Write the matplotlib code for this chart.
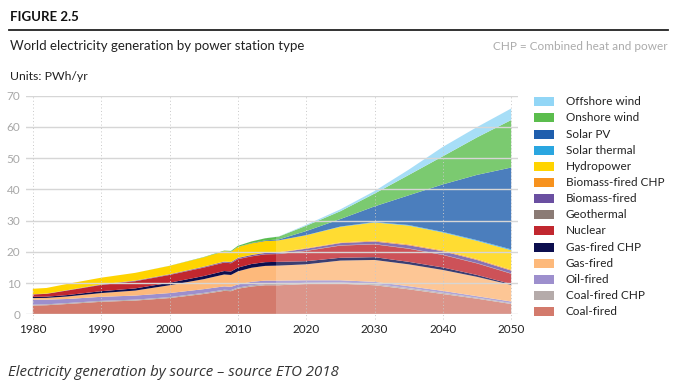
import matplotlib
matplotlib.use("Agg")
import matplotlib.pyplot as plt
from matplotlib.patches import Rectangle

# ---------------- data (PWh/yr) ----------------
years = [1980, 1982, 1985, 1990, 1995, 2000, 2005, 2008, 2009, 2010, 2012, 2014, 2016,
         2020, 2025, 2030, 2035, 2040, 2045, 2050]

coal_fired = [2.8, 2.9, 3.3, 4.0, 4.4, 5.2, 6.5, 7.5, 7.4, 8.2, 8.9, 9.3, 9.3,
              9.7, 9.8, 9.3, 8.0, 6.5, 5.0, 3.3]
coal_fired_chp = [0.3, 0.3, 0.3, 0.3, 0.3, 0.3, 0.35, 0.35, 0.35, 0.35, 0.4, 0.4, 0.4,
                  0.4, 0.4, 0.4, 0.4, 0.4, 0.3, 0.3]
oil_fired = [1.6, 1.5, 1.3, 1.3, 1.3, 1.3, 1.2, 1.1, 1.05, 1.0, 1.1, 1.1, 1.1,
             0.8, 0.7, 0.7, 0.6, 0.6, 0.5, 0.5]
gas_fired = [0.5, 0.55, 0.8, 1.2, 1.6, 2.5, 3.2, 3.8, 3.8, 4.2, 4.5, 4.7, 4.8,
             5.1, 6.3, 7.0, 7.0, 6.7, 6.2, 5.3]
gas_fired_chp = [0.4, 0.4, 0.45, 0.6, 0.7, 0.8, 1.0, 1.1, 1.1, 1.2, 1.2, 1.2, 1.2,
                 1.0, 0.9, 0.9, 0.8, 0.8, 0.6, 0.3]
nuclear = [0.75, 0.9, 1.45, 2.0, 2.3, 2.5, 2.7, 2.7, 2.65, 2.7, 2.45, 2.5, 2.5,
           3.3, 3.9, 4.1, 4.2, 4.0, 3.7, 3.3]
geothermal = [0.01, 0.01, 0.02, 0.03, 0.04, 0.05, 0.06, 0.06, 0.07, 0.07, 0.07, 0.08, 0.08,
              0.1, 0.1, 0.1, 0.1, 0.1, 0.1, 0.1]
biomass_fired = [0.05, 0.05, 0.07, 0.1, 0.13, 0.15, 0.2, 0.25, 0.27, 0.3, 0.35, 0.38, 0.4,
                 0.6, 0.7, 0.8, 1.0, 1.1, 1.0, 0.9]
biomass_fired_chp = [0.02, 0.02, 0.03, 0.04, 0.05, 0.06, 0.07, 0.08, 0.08, 0.09, 0.1, 0.1, 0.1,
                     0.2, 0.2, 0.3, 0.3, 0.3, 0.3, 0.3]
hydropower = [1.75, 1.8, 2.0, 2.15, 2.45, 2.65, 2.95, 3.25, 3.25, 3.45, 3.65, 3.7, 3.8,
              4.1, 5.0, 5.8, 6.0, 5.7, 5.8, 6.2]
solar_thermal = [0, 0, 0, 0, 0, 0, 0, 0, 0, 0.002, 0.005, 0.008, 0.01,
                 0.05, 0.1, 0.15, 0.2, 0.2, 0.25, 0.3]
solar_pv = [0, 0, 0, 0, 0, 0, 0.003, 0.01, 0.02, 0.03, 0.1, 0.19, 0.3,
            1.3, 2.4, 5.0, 9.5, 15.2, 20.9, 26.2]
onshore_wind = [0, 0, 0, 0.004, 0.006, 0.03, 0.1, 0.2, 0.26, 0.33, 0.5, 0.68, 0.9,
                1.7, 2.5, 4.1, 6.5, 9.0, 12.0, 15.2]
offshore_wind = [0, 0, 0, 0, 0, 0, 0, 0, 0, 0.004, 0.01, 0.02, 0.05,
                 0.3, 0.6, 0.8, 1.7, 3.0, 3.3, 3.7]

labels = ["Coal-fired", "Coal-fired CHP", "Oil-fired", "Gas-fired", "Gas-fired CHP",
          "Nuclear", "Geothermal", "Biomass-fired", "Biomass-fired CHP", "Hydropower",
          "Solar thermal", "Solar PV", "Onshore wind", "Offshore wind"]
series = [coal_fired, coal_fired_chp, oil_fired, gas_fired, gas_fired_chp, nuclear,
          geothermal, biomass_fired, biomass_fired_chp, hydropower, solar_thermal,
          solar_pv, onshore_wind, offshore_wind]
colors = ["#d37a6c", "#b5abaa", "#9d8fcd", "#fdb97b", "#0c0e4e", "#c1272f",
          "#8b7b75", "#6a4fa1", "#f7921e", "#ffd400", "#2aa6e0", "#1f5ead",
          "#5bbd4d", "#92d6f6"]

x_ticks = [1980, 1990, 2000, 2010, 2020, 2030, 2040, 2050]
y_ticks = [0, 10, 20, 30, 40, 50, 60, 70]
forecast_start = 2015.6

# ---------------- figure ----------------
plt.rcParams['font.family'] = ['Lato', 'DejaVu Sans']
W, H = 676, 392
fig = plt.figure(figsize=(W / 100, H / 100), dpi=100)

def fx(px):
    return px / W

def fy(py):
    return 1 - py / H

ax_left, ax_right = 26, 518
ax_top, ax_bottom = 95.7, 314.3
ax = fig.add_axes([fx(ax_left), fy(ax_bottom), fx(ax_right - ax_left), (ax_bottom - ax_top) / H])

ax.stackplot(years, *series, colors=colors, linewidth=0, zorder=1)
ax.axvspan(forecast_start, 2051, color="white", alpha=0.2, lw=0, zorder=2)

for yv in y_ticks:
    ax.axhline(yv, color="#d6d6d6", lw=1.0, zorder=3)
for xv in x_ticks:
    ax.axvline(xv, ymin=-0.02, color="#c8c8c8", lw=0.7, ls=(0, (1, 2.5)), zorder=3, clip_on=False)

ax.set_xlim(1979, 2051)
ax.set_ylim(0, 70)
ax.set_xticks(x_ticks)
ax.set_yticks(y_ticks)
ax.tick_params(axis="x", length=0, pad=7, labelsize=8.5, labelcolor="#222222")
ax.tick_params(axis="y", length=0, pad=4, labelsize=8.5, labelcolor="#a8a8a8")
for s in ax.spines.values():
    s.set_visible(False)

# ---------------- legend ----------------
leg_top = 101.7
leg_step = 16.15
for i, (lab, col) in enumerate(reversed(list(zip(labels, colors)))):
    yc = leg_top + i * leg_step
    fig.patches.append(Rectangle((fx(534), fy(yc + 4.5)), fx(20), 9 / H,
                                 transform=fig.transFigure, color=col, lw=0))
    fig.text(fx(566), fy(yc), lab, fontsize=8.5, color="#222222", va="center", ha="left")

# ---------------- titles ----------------
fig.text(fx(9.5), fy(17), "FIGURE 2.5", fontsize=9.5, fontweight="bold", color="#111111",
         va="center", ha="left")
fig.add_artist(plt.Line2D([fx(9), fx(668)], [fy(29.5), fy(29.5)], color="#222222", lw=1.3,
                          transform=fig.transFigure))
fig.text(fx(9.5), fy(46), "World electricity generation by power station type", fontsize=9.5,
         color="#222222", va="center", ha="left")
fig.text(fx(668), fy(46), "CHP = Combined heat and power", fontsize=8.5,
         color="#ababab", va="center", ha="right")
fig.text(fx(9.5), fy(77), "Units: PWh/yr", fontsize=8.8, color="#222222", va="center", ha="left")
fig.text(fx(8), fy(372), "Electricity generation by source \u2013 source ETO 2018",
         fontsize=10.8, style="italic", color="#333333", va="center", ha="left",
         family=["Open Sans", "DejaVu Sans"])

fig.savefig("out.png", dpi=100, facecolor="white")
